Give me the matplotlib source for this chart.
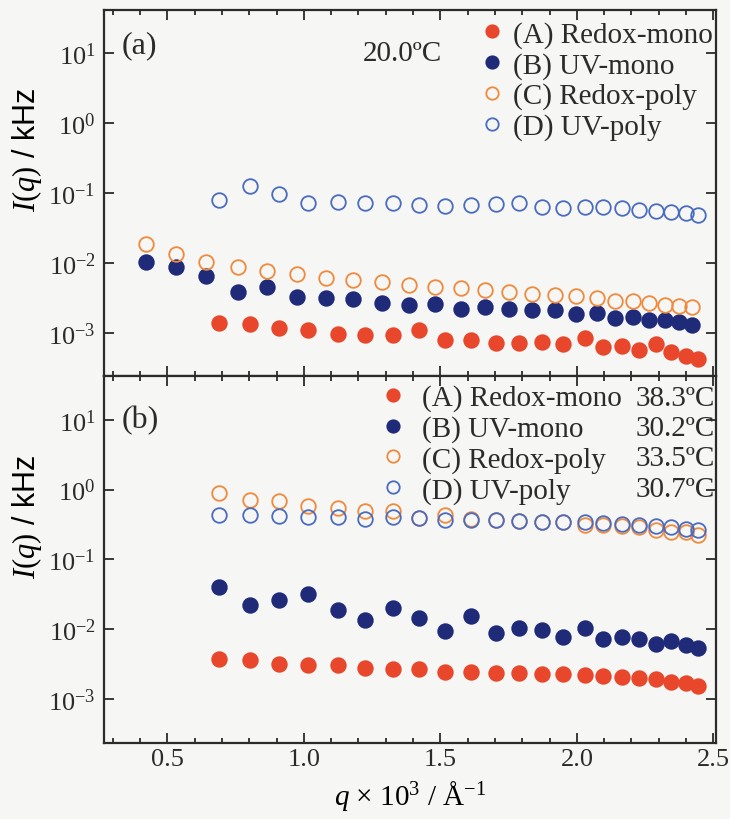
import matplotlib

matplotlib.use("Agg")
import matplotlib.pyplot as plt
from matplotlib.lines import Line2D
from matplotlib.ticker import LogLocator, MultipleLocator, NullLocator

# scattering vector, two angle sets (x 10^3 / A^-1)
q_set1 = [0.420, 0.533, 0.643, 0.757, 0.864, 0.973, 1.080, 1.180, 1.286, 1.384,
          1.481, 1.576, 1.664, 1.752, 1.837, 1.919, 1.997, 2.072, 2.139, 2.205,
          2.265, 2.324, 2.375, 2.422]
q_set2 = [0.689, 0.802, 0.909, 1.015, 1.124, 1.223, 1.327, 1.422, 1.517, 1.611,
          1.704, 1.788, 1.872, 1.949, 2.029, 2.097, 2.164, 2.228, 2.288, 2.343,
          2.398, 2.442]

# (a) 20.0 C, intensity / kHz
a_redox_mono = [0.00138, 0.00135, 0.00118, 0.00108, 0.00097, 0.00092, 0.00092,
                0.00108, 0.00080, 0.00078, 0.00071, 0.00071, 0.00073, 0.00068,
                0.00084, 0.00062, 0.00064, 0.00056, 0.00070, 0.00053, 0.00047,
                0.00042]
a_uv_mono = [0.0104, 0.00879, 0.00646, 0.00385, 0.00445, 0.00326, 0.00319,
             0.00302, 0.00267, 0.00248, 0.00256, 0.00222, 0.00234, 0.00222,
             0.00210, 0.00210, 0.00188, 0.00192, 0.00163, 0.00168, 0.00151,
             0.00151, 0.00143, 0.00128]
a_redox_poly = [0.0186, 0.0132, 0.0104, 0.00861, 0.00762, 0.00690, 0.00598,
                0.00566, 0.00525, 0.00480, 0.00454, 0.00431, 0.00407, 0.00385,
                0.00353, 0.00345, 0.00333, 0.00315, 0.00285, 0.00282, 0.00267,
                0.00248, 0.00239, 0.00230]
a_uv_poly = [0.0798, 0.127, 0.0964, 0.0716, 0.0740, 0.0730, 0.0716, 0.0676,
             0.0655, 0.0676, 0.0700, 0.0716, 0.0640, 0.0607, 0.0640, 0.0627,
             0.0619, 0.0574, 0.0561, 0.0542, 0.0514, 0.0486]

# (b) near the transition temperatures
b_redox_mono = [0.00373, 0.00365, 0.00324, 0.00306, 0.00309, 0.00284, 0.00268,
                0.00274, 0.00245, 0.00245, 0.00240, 0.00240, 0.00227, 0.00227,
                0.00220, 0.00215, 0.00211, 0.00204, 0.00193, 0.00179, 0.00169,
                0.00155]
b_uv_mono = [0.0405, 0.0221, 0.0264, 0.0318, 0.0190, 0.0136, 0.0199, 0.0143,
             0.00948, 0.0156, 0.00900, 0.0106, 0.00971, 0.00789, 0.0103,
             0.00738, 0.00789, 0.00721, 0.00611, 0.00682, 0.00592, 0.00548]
b_redox_poly = [0.891, 0.714, 0.678, 0.586, 0.538, 0.497, 0.497, 0.391, 0.435,
                0.378, 0.369, 0.357, 0.346, 0.339, 0.313, 0.310, 0.297, 0.287,
                0.263, 0.248, 0.244, 0.225]
b_uv_poly = [0.435, 0.435, 0.422, 0.400, 0.400, 0.378, 0.400, 0.391, 0.369,
             0.369, 0.369, 0.357, 0.346, 0.346, 0.339, 0.328, 0.321, 0.310,
             0.303, 0.287, 0.272, 0.265]

names = ["(A) Redox-mono", "(B) UV-mono", "(C) Redox-poly", "(D) UV-poly"]
temps_b = ["38.3\u00baC", "30.2\u00baC", "33.5\u00baC", "30.7\u00baC"]

RED = "#e8472c"
NAVY = "#1f2a78"
ORANGE = "#f08a3c"
BLUE = "#4a6cc0"
BG = "#f6f6f4"
INK = "#2b2b2b"

plt.rcParams["font.family"] = ["Liberation Serif", "DejaVu Serif"]
plt.rcParams["mathtext.fontset"] = "custom"
plt.rcParams["mathtext.rm"] = "Liberation Serif"
plt.rcParams["mathtext.it"] = "Liberation Serif:italic"
plt.rcParams["axes.unicode_minus"] = False
plt.rcParams["text.color"] = INK

fig, (ax1, ax2) = plt.subplots(2, 1, figsize=(7.3, 8.2), dpi=100, sharex=True)
fig.patch.set_facecolor(BG)
fig.subplots_adjust(left=0.1425, right=0.981, top=0.9866, bottom=0.0927, hspace=0)

MS = 10.5
LEG = dict(frameon=False, fontsize=21, borderpad=0, borderaxespad=0,
           labelspacing=0.13)


def series(ax, q, y, color, filled):
    return ax.plot(q, y, "o", ls="none", ms=MS, mew=1.3, mec=color,
                   mfc=color if filled else "none")[0]


def style(ax):
    ax.set_facecolor(BG)
    ax.set_yscale("log")
    ax.set_ylim(10 ** -3.626, 10 ** 1.618)
    ax.set_xlim(0.268, 2.51)
    ax.yaxis.set_major_locator(LogLocator(base=10, numticks=10))
    ax.yaxis.set_minor_locator(NullLocator())
    ax.xaxis.set_major_locator(MultipleLocator(0.5))
    ax.xaxis.set_minor_locator(MultipleLocator(0.1))
    ax.tick_params(which="both", direction="in", top=True, right=True,
                   color=INK, width=1.3, labelsize=19, labelcolor=INK)
    ax.tick_params(which="major", length=7)
    ax.tick_params(which="minor", length=3.5)
    ax.tick_params(axis="y", pad=6)
    for sp in ax.spines.values():
        sp.set_linewidth(1.6)
        sp.set_color(INK)
    ax.set_ylabel("$I(q)$ / kHz", family="Liberation Sans", fontsize=22)
    ax.yaxis.set_label_coords(-0.098, 0.62)


# panel (a)
h = [series(ax1, q_set2, a_redox_mono, RED, True),
     series(ax1, q_set1, a_uv_mono, NAVY, True),
     series(ax1, q_set1, a_redox_poly, ORANGE, False),
     series(ax1, q_set2, a_uv_poly, BLUE, False)]
style(ax1)
ax1.legend(h, names, loc="upper left", bbox_to_anchor=(0.614, 0.97),
           handlelength=0.8, handletextpad=0.35, markerscale=0.85, **LEG)
ax1.text(0.028, 0.905, "(a)", transform=ax1.transAxes, fontsize=23, va="center")
ax1.text(0.423, 0.882, "20.0\u00baC", transform=ax1.transAxes, fontsize=21,
         va="center")

# panel (b)
h = [series(ax2, q_set2, b_redox_mono, RED, True),
     series(ax2, q_set2, b_uv_mono, NAVY, True),
     series(ax2, q_set2, b_redox_poly, ORANGE, False),
     series(ax2, q_set2, b_uv_poly, BLUE, False)]
style(ax2)
leg = ax2.legend(h, names, loc="upper left", bbox_to_anchor=(0.453, 0.978),
                 handlelength=0.8, handletextpad=0.6, markerscale=0.85, **LEG)
ax2.add_artist(leg)
blank = [Line2D([], [], ls="none") for _ in temps_b]
ax2.legend(blank, temps_b, loc="upper right", bbox_to_anchor=(0.998, 0.978),
           handlelength=0, handletextpad=0, markerfirst=False, **LEG)
ax2.text(0.028, 0.883, "(b)", transform=ax2.transAxes, fontsize=23, va="center")

ax2.set_xlabel("$q$ \u00d7 10$^3$ / \u00c5$^{-1}$", fontsize=21, labelpad=6)

fig.savefig("out.png", dpi=100, facecolor=BG)
